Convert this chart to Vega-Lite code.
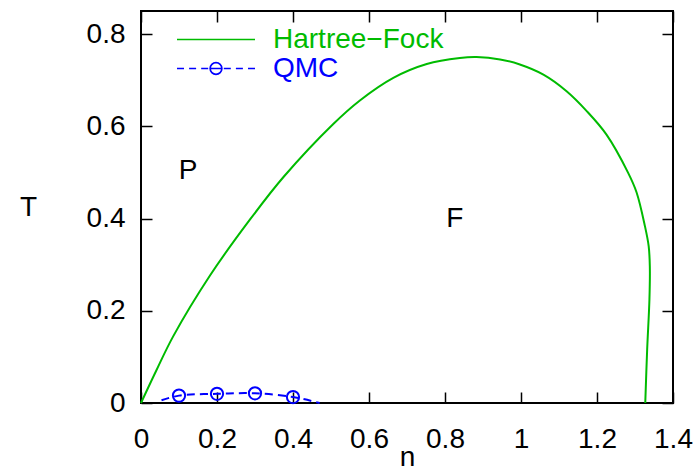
{
  "$schema": "https://vega.github.io/schema/vega-lite/v6.json",
  "width": 532,
  "height": 392,
  "autosize": "none",
  "padding": {"left": 141, "top": 11, "right": 23, "bottom": 67},
  "config": {
    "font": "Liberation Sans",
    "view": {"stroke": "black", "strokeWidth": 2},
    "axis": {
      "grid": false,
      "domain": false,
      "ticks": true,
      "tickSize": -11,
      "tickWidth": 1.5,
      "tickColor": "black",
      "labelFontSize": 28,
      "labelColor": "black",
      "labelFlush": false,
      "labelOverlap": false,
      "titleFontSize": 28,
      "titleFontWeight": "normal",
      "titleColor": "black"
    }
  },
  "datasets": {
    "hf": [
      {"i": 0, "n": 0, "T": 0, "series": "Hartree−Fock"},
      {"i": 1, "n": 0.04, "T": 0.07, "series": "Hartree−Fock"},
      {"i": 2, "n": 0.085, "T": 0.145, "series": "Hartree−Fock"},
      {"i": 3, "n": 0.182, "T": 0.277, "series": "Hartree−Fock"},
      {"i": 4, "n": 0.287, "T": 0.398, "series": "Hartree−Fock"},
      {"i": 5, "n": 0.375, "T": 0.49, "series": "Hartree−Fock"},
      {"i": 6, "n": 0.506, "T": 0.605, "series": "Hartree−Fock"},
      {"i": 7, "n": 0.576, "T": 0.656, "series": "Hartree−Fock"},
      {"i": 8, "n": 0.664, "T": 0.705, "series": "Hartree−Fock"},
      {"i": 9, "n": 0.752, "T": 0.735, "series": "Hartree−Fock"},
      {"i": 10, "n": 0.839, "T": 0.748, "series": "Hartree−Fock"},
      {"i": 11, "n": 0.883, "T": 0.75, "series": "Hartree−Fock"},
      {"i": 12, "n": 0.945, "T": 0.745, "series": "Hartree−Fock"},
      {"i": 13, "n": 0.997, "T": 0.734, "series": "Hartree−Fock"},
      {"i": 14, "n": 1.059, "T": 0.712, "series": "Hartree−Fock"},
      {"i": 15, "n": 1.12, "T": 0.676, "series": "Hartree−Fock"},
      {"i": 16, "n": 1.173, "T": 0.633, "series": "Hartree−Fock"},
      {"i": 17, "n": 1.225, "T": 0.582, "series": "Hartree−Fock"},
      {"i": 18, "n": 1.282, "T": 0.499, "series": "Hartree−Fock"},
      {"i": 19, "n": 1.304, "T": 0.457, "series": "Hartree−Fock"},
      {"i": 20, "n": 1.326, "T": 0.384, "series": "Hartree−Fock"},
      {"i": 21, "n": 1.336, "T": 0.34, "series": "Hartree−Fock"},
      {"i": 22, "n": 1.339, "T": 0.297, "series": "Hartree−Fock"},
      {"i": 23, "n": 1.338, "T": 0.225, "series": "Hartree−Fock"},
      {"i": 24, "n": 1.332, "T": 0.116, "series": "Hartree−Fock"},
      {"i": 25, "n": 1.327, "T": 0, "series": "Hartree−Fock"}
    ],
    "qmcLine": [
      {"i": 0, "n": 0.054, "T": 0.006, "series": "QMC"},
      {"i": 1, "n": 0.1, "T": 0.016, "series": "QMC"},
      {"i": 2, "n": 0.2, "T": 0.02, "series": "QMC"},
      {"i": 3, "n": 0.3, "T": 0.021, "series": "QMC"},
      {"i": 4, "n": 0.4, "T": 0.013, "series": "QMC"},
      {"i": 5, "n": 0.47, "T": 0, "series": "QMC"}
    ],
    "qmcPts": [
      {"n": 0.1, "T": 0.016},
      {"n": 0.2, "T": 0.02},
      {"n": 0.3, "T": 0.021},
      {"n": 0.4, "T": 0.013}
    ],
    "labels": [
      {"n": 0.124, "T": 0.503, "label": "P"},
      {"n": 0.826, "T": 0.4, "label": "F"}
    ]
  },
  "layer": [
    {
      "data": {"name": "hf"},
      "mark": {"type": "line", "strokeWidth": 2, "interpolate": "catmull-rom"},
      "encoding": {
        "x": {
          "field": "n", "type": "quantitative",
          "scale": {"domain": [0, 1.4], "nice": false, "zero": false},
          "axis": {"orient": "bottom", "values": [0, 0.2, 0.4, 0.6, 0.8, 1, 1.2, 1.4], "format": "~g", "labelPadding": 33, "title": "n", "titleY": 62, "titleBaseline": "alphabetic"}
        },
        "y": {
          "field": "T", "type": "quantitative",
          "scale": {"domain": [0, 0.85], "nice": false, "zero": false},
          "axis": {"orient": "left", "values": [0, 0.2, 0.4, 0.6, 0.8], "format": "~g", "labelPadding": 27, "title": "T", "titleAngle": 0, "titleX": -113, "titleY": 196, "titleAlign": "center", "titleBaseline": "middle"}
        },
        "order": {"field": "i", "type": "quantitative"},
        "color": {
          "field": "series", "type": "nominal",
          "scale": {"domain": ["Hartree−Fock", "QMC"], "range": ["#00bb00", "#0000ff"]},
          "legend": {
            "orient": "none",
            "legendX": 35,
            "legendY": 14,
            "title": null,
            "padding": 0,
            "labelFontSize": 28,
            "labelOffset": 17,
            "labelLimit": 0,
            "clipHeight": 29,
            "rowPadding": -1,
            "symbolSize": 6084,
            "symbolStrokeWidth": 1.7,
            "symbolFillColor": "transparent",
            "symbolType": {"expr": "datum.value === 'QMC' ? 'M-1,0H-0.82M-0.69,0H-0.51M-0.38,0H-0.2M-0.15,0H0.15M0.2,0H0.38M0.51,0H0.69M0.82,0H1M0.15,0A0.15,0.15,0,1,1,-0.15,0A0.15,0.15,0,1,1,0.15,0' : 'M-1,0H1'"},
            "labelColor": {"expr": "datum.value === 'QMC' ? '#0000ff' : '#00bb00'"}
          }
        }
      }
    },
    {
      "data": {"name": "qmcLine"},
      "mark": {"type": "line", "strokeWidth": 2, "strokeDash": [8, 5], "interpolate": "catmull-rom"},
      "encoding": {
        "x": {"field": "n", "type": "quantitative", "axis": null},
        "y": {"field": "T", "type": "quantitative", "axis": null},
        "order": {"field": "i", "type": "quantitative"},
        "color": {"field": "series", "type": "nominal"}
      }
    },
    {
      "data": {"name": "qmcPts"},
      "mark": {"type": "point", "shape": "circle", "filled": false, "size": 150, "strokeWidth": 2, "color": "#0000ff", "opacity": 1},
      "encoding": {
        "x": {"field": "n", "type": "quantitative", "axis": null},
        "y": {"field": "T", "type": "quantitative", "axis": null}
      }
    },
    {
      "data": {"name": "labels"},
      "mark": {"type": "text", "fontSize": 28, "color": "black", "align": "center", "baseline": "middle"},
      "encoding": {
        "x": {"field": "n", "type": "quantitative", "axis": {"orient": "top", "values": [0, 0.2, 0.4, 0.6, 0.8, 1, 1.2, 1.4], "labels": false, "title": null}},
        "y": {"field": "T", "type": "quantitative", "axis": {"orient": "right", "values": [0, 0.2, 0.4, 0.6, 0.8], "labels": false, "title": null}},
        "text": {"field": "label"}
      }
    }
  ],
  "resolve": {"axis": {"x": "independent", "y": "independent"}}
}
